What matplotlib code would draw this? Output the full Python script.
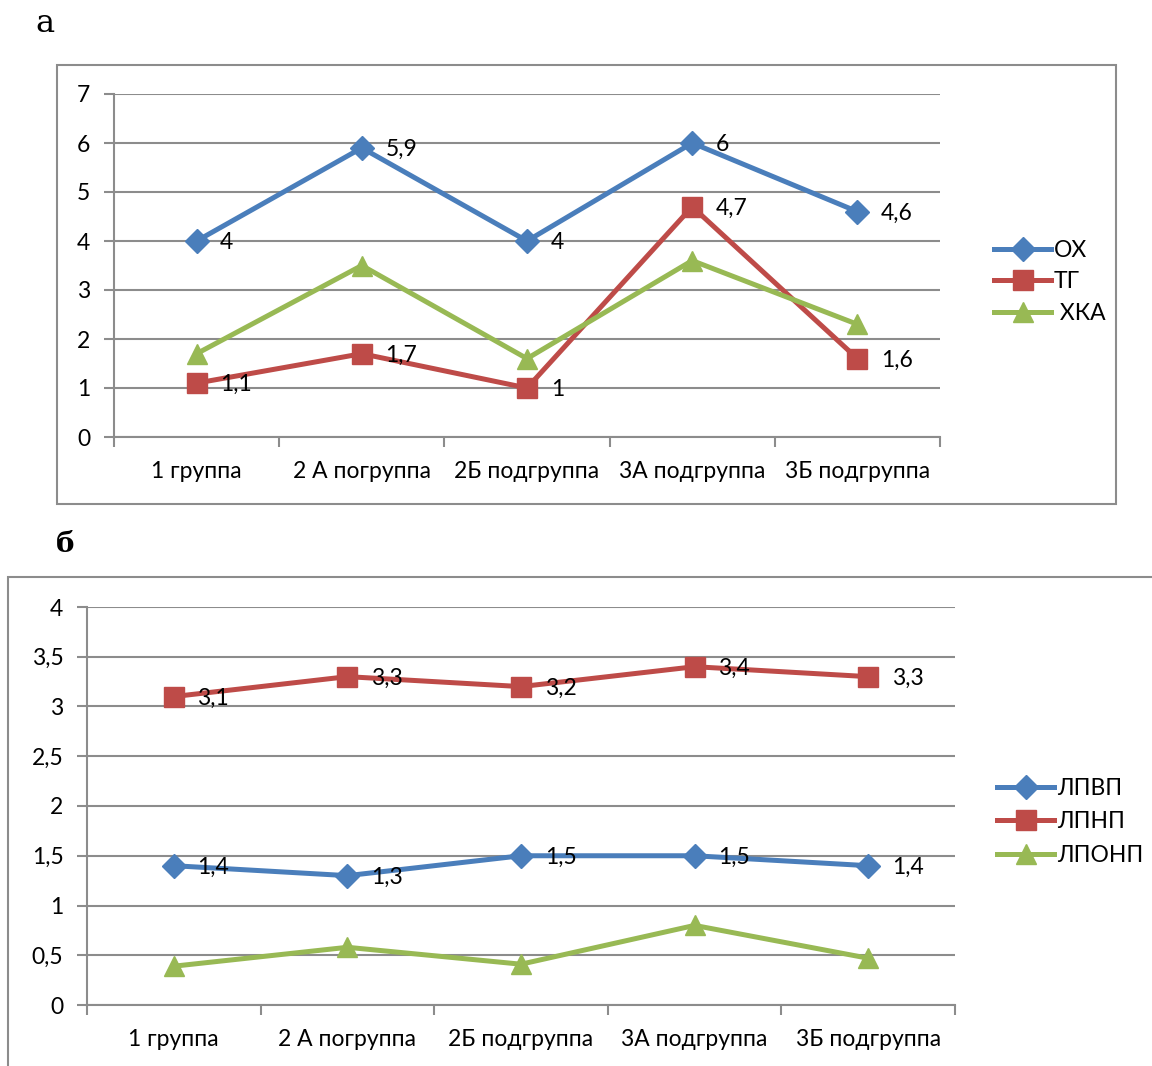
import matplotlib.pyplot as plt
from matplotlib.patches import Rectangle

plt.rcParams['font.family'] = ['Lato', 'DejaVu Sans']

groups = ["1 группа", "2 А погруппа", "2Б подгруппа", "3А подгруппа", "3Б подгруппа"]

# Chart a
ox = [4, 5.9, 4, 6, 4.6]
tg = [1.1, 1.7, 1, 4.7, 1.6]
hka = [1.7, 3.5, 1.6, 3.6, 2.3]

# Chart b
lpvp = [1.4, 1.3, 1.5, 1.5, 1.4]
lpnp = [3.1, 3.3, 3.2, 3.4, 3.3]
lponp = [0.39, 0.58, 0.41, 0.8, 0.47]

blue = "#4A7EBB"
red = "#BE4B48"
green = "#98B954"
grid_c = "#8C8C8C"
fs = 16.5

W, H = 1152, 1066
fig = plt.figure(figsize=(W / 100, H / 100), dpi=100)


def fx(px):
    return px / W


def fy(py):
    return 1 - py / H


def fmt(v):
    return ("%g" % v).replace(".", ",")


def draw_chart(ax, series, ymax, ystep, labelled):
    x = list(range(len(groups)))
    for name, vals, color, marker, ms in series:
        ax.plot(x, vals, color=color, lw=3.6, marker=marker, ms=ms,
                label=name, solid_joinstyle="round", zorder=3)
    for vals in labelled:
        for xi, v in zip(x, vals):
            ax.annotate(fmt(v), (xi, v), xytext=(17, -1), textcoords="offset points",
                        ha="left", va="center", fontsize=fs, zorder=4)
    ax.set_xlim(-0.5, len(groups) - 0.5)
    ax.set_ylim(0, ymax)
    yt = [i * ystep for i in range(int(round(ymax / ystep)) + 1)]
    ax.set_yticks(yt)
    ax.set_yticklabels([fmt(t) for t in yt], fontsize=fs)
    ax.set_xticks(x)
    ax.set_xticklabels(groups, fontsize=fs)
    ax.tick_params(axis="x", length=0, pad=17)
    ax.set_xticks([i - 0.5 for i in range(len(groups) + 1)], minor=True)
    ax.tick_params(axis="x", which="minor", length=7, width=1.5, color=grid_c, direction="out")
    ax.tick_params(axis="y", length=7, width=1.5, color=grid_c, direction="out", pad=10)
    ax.grid(axis="y", color=grid_c, lw=1.5)
    ax.set_axisbelow(True)
    for s in ["top", "right"]:
        ax.spines[s].set_visible(False)
    for s in ["left", "bottom"]:
        ax.spines[s].set_color(grid_c)
        ax.spines[s].set_linewidth(1.5)
    ax.patch.set_alpha(0)


# frames
fig.patches.append(Rectangle((fx(57), fy(504)), fx(1116 - 57), fy(65) - fy(504),
                             transform=fig.transFigure, fill=False, ec="#8C8C8C", lw=1.5))
fig.patches.append(Rectangle((fx(8), fy(1100)), fx(1200 - 8), fy(577) - fy(1100),
                             transform=fig.transFigure, fill=False, ec="#8C8C8C", lw=1.5))

fig.text(fx(45), fy(24), "а", fontsize=23, family="DejaVu Serif", ha="center", va="center")
fig.text(fx(65), fy(545), "б", fontsize=20, family="DejaVu Serif", weight="bold",
         ha="center", va="center")

ax1 = fig.add_axes([fx(114), fy(437), fx(940 - 114), fy(94) - fy(437)])
draw_chart(ax1, [("ОХ", ox, blue, "D", 12), ("ТГ", tg, red, "s", 14),
                 (" ХКА", hka, green, "^", 15)], 7, 1, [ox, tg])
ax1.legend(loc="center left", bbox_to_anchor=(fx(985), fy(282)), bbox_transform=fig.transFigure,
           frameon=False, fontsize=fs, handlelength=2.5, handletextpad=0.1, labelspacing=0.45,
           borderaxespad=0)

ax2 = fig.add_axes([fx(87), fy(1005), fx(955 - 87), fy(607) - fy(1005)])
draw_chart(ax2, [("ЛПВП", lpvp, blue, "D", 12), ("ЛПНП", lpnp, red, "s", 14),
                 ("ЛПОНП", lponp, green, "^", 15)], 4, 0.5, [lpvp, lpnp])
ax2.legend(loc="center left", bbox_to_anchor=(fx(988), fy(822)), bbox_transform=fig.transFigure,
           frameon=False, fontsize=fs, handlelength=2.5, handletextpad=0.1, labelspacing=0.55,
           borderaxespad=0)

fig.savefig("out.png", dpi=100)
